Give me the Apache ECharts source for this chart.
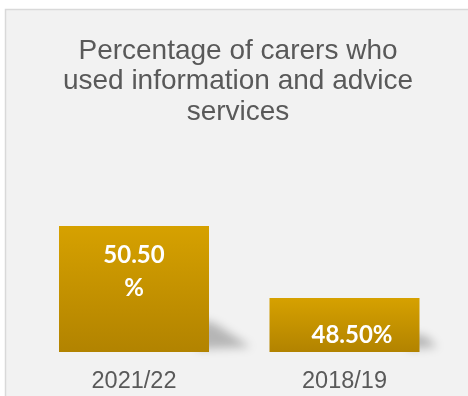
<!DOCTYPE html>
<html>
<head>
<meta charset="utf-8">
<script src="https://cdn.jsdelivr.net/npm/echarts@6/dist/echarts.min.js"></script>
<style>
  html, body { margin: 0; padding: 0; background: #ffffff; }
  #chart { width: 468px; height: 396px; }
</style>
</head>
<body>
<div id="chart"></div>
<script>
// Survey periods and the share of carers who used information and advice services (%)
const categories = ['2021/22', '2018/19'];
const percentages = [50.5, 48.5];
const titleLines = ['Percentage of carers who', 'used information and advice', 'services'];

const AXIS_MIN = 47;
const AXIS_MAX = 52;
const BAR_WIDTH = 150;
const TEXT_GREY = '#595959';

const chart = echarts.init(document.getElementById('chart'), null, { renderer: 'canvas' });

// Soft cast shadow at the lower right of each bar: the wedge is drawn far off to the
// left and only its blurred shadow is shifted back into view.
const SHADOW_SHIFT = 2000;
function renderShadow(params, api) {
  const top = api.coord([api.value(0), api.value(1)]);
  const base = api.coord([api.value(0), AXIS_MIN]);
  const h = base[1] - top[1];
  const xr = base[0] + BAR_WIDTH / 2;
  const yb = base[1];
  const len = 0 + 0.33 * h;
  const vert = 8 + 0.2 * h;
  const pts = [
    [xr - 12, yb - 3],
    [xr - 12, yb - vert],
    [xr + 6, yb - vert * 0.85],
    [xr + len, yb - 5]
  ].map(p => [p[0] - SHADOW_SHIFT, p[1]]);
  return {
    type: 'polygon',
    shape: { points: pts },
    style: {
      fill: 'rgba(0,0,0,0.5)',
      shadowColor: 'rgba(0,0,0,0.5)',
      shadowBlur: 10,
      shadowOffsetX: SHADOW_SHIFT,
      shadowOffsetY: 0
    },
    silent: true
  };
}

const barData = percentages.map((v, i) => {
  const item = { value: v };
  if (i === 0) {
    item.label = { position: 'insideTop', distance: 13 };
  } else {
    item.label = { position: 'inside', offset: [7.5, 10.5] };
  }
  return item;
});

chart.setOption({
  animation: false,
  backgroundColor: '#ffffff',
  graphic: [
    {
      type: 'rect',
      shape: { x: 5.5, y: 9.5, width: 480, height: 400 },
      style: { fill: '#f2f2f2', stroke: '#d9d9d9', lineWidth: 1.5 },
      silent: true,
      z: -10
    },
    {
      type: 'text',
      x: 238,
      y: 36,
      style: {
        text: titleLines.join('\n'),
        fill: TEXT_GREY,
        fontSize: 28,
        fontFamily: '"Liberation Sans", Arial, sans-serif',
        align: 'center',
        verticalAlign: 'top',
        lineHeight: 30.5
      },
      silent: true,
      z: -5
    }
  ],
  grid: { left: 28.75, right: 18.25, top: 172, bottom: 44, containLabel: false },
  xAxis: {
    type: 'category',
    data: categories,
    axisLine: { show: false },
    axisTick: { show: false },
    splitLine: { show: false },
    axisLabel: {
      color: TEXT_GREY,
      fontSize: 23.5,
      fontFamily: '"Liberation Sans", Arial, sans-serif',
      margin: 18
    }
  },
  yAxis: {
    type: 'value',
    min: AXIS_MIN,
    max: AXIS_MAX,
    show: false,
    splitLine: { show: false }
  },
  series: [
    {
      type: 'custom',
      renderItem: renderShadow,
      data: percentages.map((v, i) => [i, v]),
      z: 1,
      silent: true
    },
    {
      type: 'bar',
      data: barData,
      barWidth: BAR_WIDTH,
      z: 3,
      itemStyle: {
        color: new echarts.graphic.LinearGradient(0, 0, 0, 1, [
          { offset: 0, color: '#d6a100' },
          { offset: 1, color: '#b28300' }
        ])
      },
      label: {
        show: true,
        color: '#ffffff',
        fontFamily: 'Lato, "Open Sans", sans-serif',
        fontWeight: 'bold',
        fontSize: 24,
        lineHeight: 33,
        formatter: p => p.dataIndex === 0
          ? p.value.toFixed(2) + '\n%'
          : p.value.toFixed(2) + '%'
      }
    }
  ]
});
</script>
</body>
</html>
